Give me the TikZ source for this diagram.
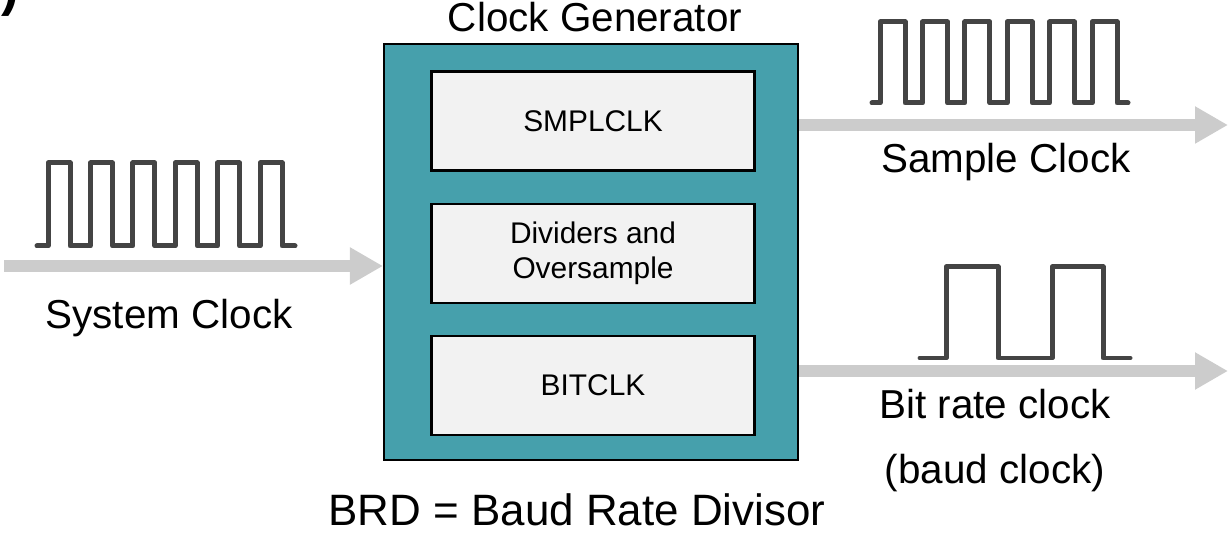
\documentclass[tikz,border=0pt]{standalone}
\usepackage{fontspec}
\setmainfont{Liberation Sans}
\usetikzlibrary{arrows.meta,positioning}
\definecolor{genteal}{HTML}{46A0AC}
\definecolor{blockgray}{HTML}{F2F2F2}
\definecolor{arrowgray}{HTML}{CCCCCC}
\definecolor{wavegray}{HTML}{444444}
\tikzset{
    %Define style for the generator box
    genbox/.style={
           rectangle,
           draw=black, line width=1.2pt,
           fill=genteal,
           minimum width=8.28cm,
           minimum height=8.32cm,
           },
    %Define style for inner blocks
    block/.style={
           rectangle,
           draw=black, line width=1.2pt,
           fill=blockgray,
           minimum width=6.46cm,
           minimum height=1.98cm,
           font=\fontsize{17}{20}\selectfont,
           align=center,
           },
    %Define style for labels
    lbl/.style={
           font=\fontsize{23}{37}\selectfont,
           align=center,
           },
    % Define arrow style
    sig/.style={
           -{Triangle[length=0.66cm,width=0.7cm]},
           draw=arrowgray,
           line width=0.24cm,},
    wave/.style={ draw=wavegray, line width=0.1cm,
    line cap=round, line join=round }
}
\begin{document}
\begin{tikzpicture}[x=0.02cm,y=-0.02cm,node distance=0.62cm]
\useasboundingbox (0,0) rectangle (1230,533);
\node[font=\fontsize{30}{34}\selectfont\bfseries, inner sep=0pt, anchor=south west] (cut) at (1,17) {)};
\node[genbox] (G) at (591,252) {};
\node[lbl] (title) at (595,17) {Clock Generator};
\node[block] (S) at (593,121) {SMPLCLK};
\node[block, below=of S] (D) {Dividers and\\Oversample};
\node[block, below=of D] (B) {BITCLK};
\coordinate (sysin) at (4,266);
\coordinate (smplout) at (1228,125);
\coordinate (bitout) at (1228,371);
\draw[sig] (sysin) -- (sysin -| G.west);
\draw[sig] (smplout -| G.east) -- (smplout);
\draw[sig] (bitout -| G.east) -- (bitout);
\draw[wave] (37,246) \foreach \k in {0,...,5}{ -- ({48+42.4*\k},246) -- ({48+42.4*\k},163) -- ({70+42.4*\k},163) -- ({70+42.4*\k},246)} -- (295,246);
\draw[wave] (872,103) \foreach \k in {0,...,5}{ -- ({880+42.4*\k},103) -- ({880+42.4*\k},22) -- ({905+42.4*\k},22) -- ({905+42.4*\k},103)} -- (1128,103);
\draw[wave] (920,358) -- (946,358) -- (946,267) -- (998,267) -- (998,358) -- (1052,358) -- (1052,267) -- (1103,267) -- (1103,358) -- (1130,358);
\node[lbl] (syslbl) at (169,318) {System Clock};
\node[lbl] (smpllbl) at (1006,162) {Sample Clock};
\node[lbl] (bitlbl) at (995,441) {Bit rate clock\\(baud clock)};
\node[font=\fontsize{25}{30}\selectfont] (brd) at (577,510) {BRD = Baud Rate Divisor};
\end{tikzpicture}
\end{document}
